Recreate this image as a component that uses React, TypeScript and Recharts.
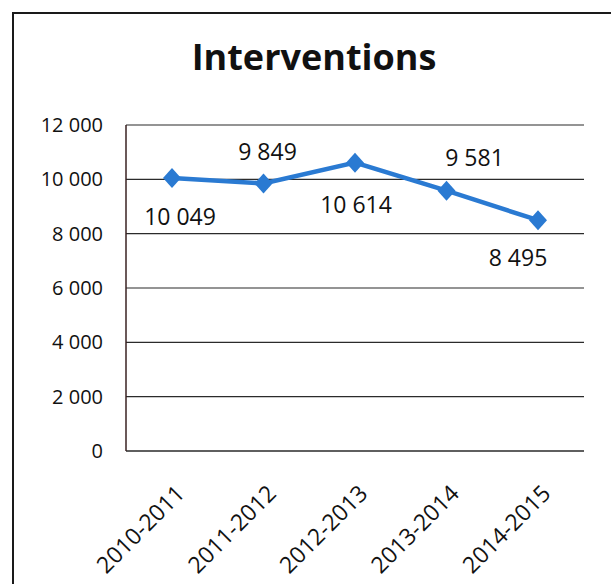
import React from 'react';
import { LineChart, Line, XAxis, YAxis, CartesianGrid, LabelList } from 'recharts';

const seasons = ['2010-2011', '2011-2012', '2012-2013', '2013-2014', '2014-2015'];
const interventions = [10049, 9849, 10614, 9581, 8495];
const yTicks = [0, 2000, 4000, 6000, 8000, 10000, 12000];

const data = seasons.map((season, i) => ({ season, value: interventions[i] }));

const FONT = '"Open Sans", "Liberation Sans", sans-serif';
const BLUE = '#2a7ad2';

// label nudges (dx, baseline dy) relative to each point, as placed in the original
const LABEL_NUDGE: [number, number][] = [
  [8, 47],
  [4, -23],
  [1, 50],
  [28, -25],
  [-20, 46],
];

const fmt = (v: number) => String(v).replace(/\B(?=(\d{3})+(?!\d))/g, ' ');

function Diamond({ cx, cy }: { cx?: number; cy?: number }) {
  if (cx == null || cy == null) return null;
  return (
    <polygon
      points={`${cx},${cy - 10} ${cx + 9},${cy} ${cx},${cy + 10} ${cx - 9},${cy}`}
      fill={BLUE}
    />
  );
}

function SeasonTick({ x, y, payload }: any) {
  const ax = x + 14;
  const ay = y + 36;
  return (
    <text
      x={ax}
      y={ay}
      textAnchor="end"
      fontSize={23}
      fontFamily={FONT}
      fill="#111"
      transform={`rotate(-45 ${ax} ${ay})`}
    >
      {payload.value}
    </text>
  );
}

function ValueLabel({ x, y, value, index }: any) {
  const [dx, dy] = LABEL_NUDGE[index] ?? [0, -12];
  return (
    <text
      x={x + dx}
      y={y + dy}
      textAnchor="middle"
      fontSize={23}
      fontFamily={FONT}
      fill="#111"
    >
      {fmt(value)}
    </text>
  );
}

export default function App() {
  return (
    <div style={{ position: 'absolute', left: 0, top: 0, width: 611, height: 584, background: '#fff', overflow: 'hidden' }}>
      <div
        style={{
          position: 'absolute',
          left: 12,
          top: 12,
          width: 640,
          height: 640,
          border: '2px solid #1a1a1a',
          boxSizing: 'border-box',
        }}
      />
      <svg width={611} height={100} style={{ position: 'absolute', left: 0, top: 0 }}>
        <text x={314} y={70} textAnchor="middle" fontSize={36} fontWeight="bold" fontFamily={FONT} fill="#111">
          Interventions
        </text>
      </svg>
      <div style={{ position: 'absolute', left: 0, top: 0 }}>
        <LineChart width={611} height={584} data={data} margin={{ top: 125, right: 27, bottom: 103, left: 0 }}>
          <CartesianGrid vertical={false} stroke="#2b2b2b" strokeWidth={1.2} />
          <XAxis
            dataKey="season"
            height={30}
            padding={{ left: 46, right: 46 }}
            tickLine={false}
            axisLine={{ stroke: '#2b2b2b', strokeWidth: 1.2 }}
            tick={<SeasonTick />}
            interval={0}
          />
          <YAxis
            width={126}
            domain={[0, 12000]}
            ticks={yTicks}
            tickFormatter={fmt}
            tickLine={false}
            tickSize={0}
            tickMargin={23}
            axisLine={{ stroke: '#3a2222', strokeWidth: 1.5 }}
            tick={{ fontSize: 20, fontFamily: FONT, fill: '#111' }}
          />
          <Line
            type="linear"
            dataKey="value"
            stroke={BLUE}
            strokeWidth={4.5}
            dot={<Diamond />}
            activeDot={false}
            isAnimationActive={false}
          >
            <LabelList dataKey="value" content={<ValueLabel />} />
          </Line>
        </LineChart>
      </div>
    </div>
  );
}
